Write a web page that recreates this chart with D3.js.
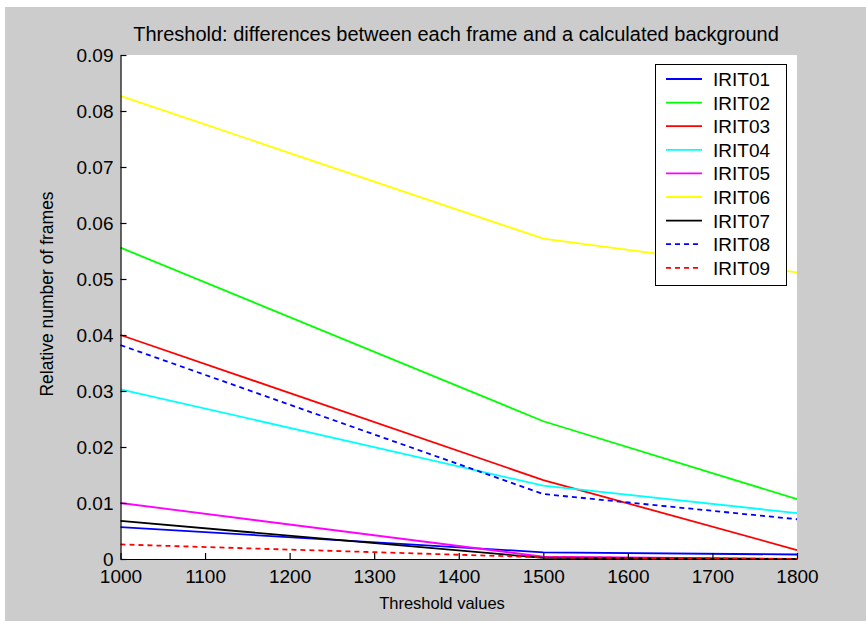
<!DOCTYPE html>
<html>
<head>
<meta charset="utf-8">
<script src="https://cdn.jsdelivr.net/npm/d3@7"></script>
<style>
  body { margin: 0; background: #fff; }
  text { font-family: "Liberation Sans", Arial, sans-serif; fill: #000; }
</style>
</head>
<body>
<script>
// data
const thresholds = [1000, 1500, 1800];
const seriesNames = ["IRIT01", "IRIT02", "IRIT03", "IRIT04", "IRIT05", "IRIT06", "IRIT07", "IRIT08", "IRIT09"];
const irit01 = [0.0057, 0.0012, 0.0008];
const irit02 = [0.0556, 0.0246, 0.0107];
const irit03 = [0.0400, 0.0141, 0.0016];
const irit04 = [0.0303, 0.0131, 0.0082];
const irit05 = [0.0100, 0.0004, 0.0000];
const irit06 = [0.0827, 0.0572, 0.0512];
const irit07 = [0.0068, 0.0002, 0.0000];
const irit08 = [0.0382, 0.0116, 0.0071];
const irit09 = [0.0026, 0.0003, 0.0000];
const xTicks = [1000, 1100, 1200, 1300, 1400, 1500, 1600, 1700, 1800];
const yTicks = [0, 0.01, 0.02, 0.03, 0.04, 0.05, 0.06, 0.07, 0.08, 0.09];

const colours = ["#0000ff", "#00ff00", "#ff0000", "#00ffff", "#ff00ff", "#ffff00", "#000000", "#0000ff", "#ff0000"];
const dashed = [false, false, false, false, false, false, false, true, true];

function renderChart() {

    const w = 866, h = 621;
    const left = 120.5, right = 797, top = 55, bottom = 559;

    let svg = d3.select("body").append("svg")
        .attr("width", w)
        .attr("height", h);

    // figure background
    svg.append("rect")
        .attr("x", 5).attr("y", 7)
        .attr("width", w - 5).attr("height", h - 7)
        .attr("fill", "#cccccc");

    svg.append("rect")
        .attr("x", left).attr("y", top)
        .attr("width", right - left).attr("height", bottom - top)
        .attr("fill", "#ffffff");

    let x = d3.scaleLinear().domain([1000, 1800]).range([left, right]);
    let y = d3.scaleLinear().domain([0, 0.09]).range([bottom, top]);

    let allSeries = [irit01, irit02, irit03, irit04, irit05, irit06, irit07, irit08, irit09];

    let line = d3.line()
        .x(function (d, i) { return x(thresholds[i]); })
        .y(function (d) { return y(d); });

    svg.append("g")
        .attr("class", "lines")
        .selectAll("path")
        .data(allSeries)
        .enter()
        .append("path")
        .attr("d", line)
        .attr("fill", "none")
        .attr("stroke", function (d, i) { return colours[i]; })
        .attr("stroke-width", 1.8)
        .attr("stroke-dasharray", function (d, i) { return dashed[i] ? "5,4" : null; });

    // axes, ticks pointing inward
    let yAxis = svg.append("g")
        .attr("transform", "translate(" + left + ",0)")
        .call(d3.axisLeft(y).tickValues(yTicks).tickSizeInner(-6).tickSizeOuter(0).tickPadding(7)
            .tickFormat(function (d) { return d === 0 ? "0" : d3.format(".2f")(d); }));

    let xAxis = svg.append("g")
        .attr("transform", "translate(0," + bottom + ")")
        .call(d3.axisBottom(x).tickValues(xTicks).tickSizeInner(-6).tickSizeOuter(0).tickPadding(11)
            .tickFormat(d3.format("d")));

    [xAxis, yAxis].forEach(function (a) {
        a.attr("font-size", 19)
            .attr("font-family", "Liberation Sans, Arial, sans-serif");
        a.selectAll("path, line").attr("stroke", "#000").attr("stroke-width", 1.2);
        a.selectAll("text").attr("fill", "#000");
    });

    // titles
    svg.append("text")
        .attr("x", 456).attr("y", 41)
        .attr("text-anchor", "middle")
        .attr("font-size", 20)
        .text("Threshold: differences between each frame and a calculated background");

    svg.append("text")
        .attr("x", 442).attr("y", 609)
        .attr("text-anchor", "middle")
        .attr("font-size", 16.5)
        .text("Threshold values");

    svg.append("text")
        .attr("transform", "translate(53,294) rotate(-90)")
        .attr("text-anchor", "middle")
        .attr("font-size", 17.5)
        .text("Relative number of frames");

    // legend
    let legend = svg.append("g").attr("class", "legend");
    legend.append("rect")
        .attr("x", 655.5).attr("y", 64.5)
        .attr("width", 131).attr("height", 221)
        .attr("fill", "#ffffff")
        .attr("stroke", "#000")
        .attr("stroke-width", 1);

    let rows = legend.selectAll(".row")
        .data(seriesNames)
        .enter()
        .append("g")
        .attr("class", "row")
        .attr("transform", function (d, i) { return "translate(0," + (79 + i * 23.6) + ")"; });

    rows.append("line")
        .attr("x1", 666).attr("x2", 702)
        .attr("y1", 0).attr("y2", 0)
        .attr("stroke", function (d, i) { return colours[i]; })
        .attr("stroke-width", 1.8)
        .attr("stroke-dasharray", function (d, i) { return dashed[i] ? "5,4" : null; });

    rows.append("text")
        .attr("x", 713).attr("y", 7)
        .attr("font-size", 19)
        .text(function (d) { return d; });
}

renderChart();
</script>
</body>
</html>
